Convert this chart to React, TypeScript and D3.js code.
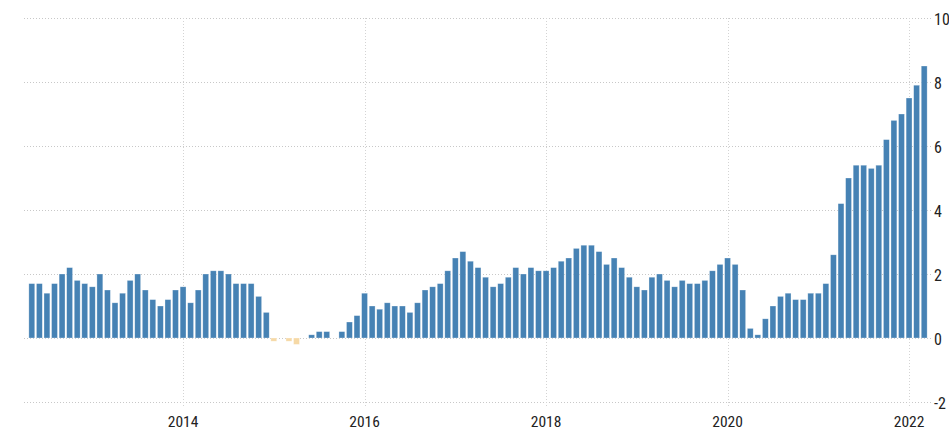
import React, { useEffect, useRef } from "react";
import * as d3 from "d3";

// monthly inflation rate, May 2012 .. Mar 2022
const startMonth = new Date(2012, 4, 1);
const values2012 = [1.7, 1.7, 1.4, 1.7, 2.0, 2.2, 1.8, 1.7];
const values2013 = [1.6, 2.0, 1.5, 1.1, 1.4, 1.8, 2.0, 1.5, 1.2, 1.0, 1.2, 1.5];
const values2014 = [1.6, 1.1, 1.5, 2.0, 2.1, 2.1, 2.0, 1.7, 1.7, 1.7, 1.3, 0.8];
const values2015 = [-0.1, 0.0, -0.1, -0.2, 0.0, 0.1, 0.2, 0.2, 0.0, 0.2, 0.5, 0.7];
const values2016 = [1.4, 1.0, 0.9, 1.1, 1.0, 1.0, 0.8, 1.1, 1.5, 1.6, 1.7, 2.1];
const values2017 = [2.5, 2.7, 2.4, 2.2, 1.9, 1.6, 1.7, 1.9, 2.2, 2.0, 2.2, 2.1];
const values2018 = [2.1, 2.2, 2.4, 2.5, 2.8, 2.9, 2.9, 2.7, 2.3, 2.5, 2.2, 1.9];
const values2019 = [1.6, 1.5, 1.9, 2.0, 1.8, 1.6, 1.8, 1.7, 1.7, 1.8, 2.1, 2.3];
const values2020 = [2.5, 2.3, 1.5, 0.3, 0.1, 0.6, 1.0, 1.3, 1.4, 1.2, 1.2, 1.4];
const values2021 = [1.4, 1.7, 2.6, 4.2, 5.0, 5.4, 5.4, 5.3, 5.4, 6.2, 6.8, 7.0];
const values2022 = [7.5, 7.9, 8.5];

const yTicks = [-2, 0, 2, 4, 6, 8, 10];
const xTickLabels = ["2014", "2016", "2018", "2020", "2022"];

const W = 949;
const H = 432;

export default function App() {
  const ref = useRef<SVGSVGElement>(null);

  useEffect(() => {
    const values = [
      ...values2012, ...values2013, ...values2014, ...values2015,
      ...values2016, ...values2017, ...values2018, ...values2019,
      ...values2020, ...values2021, ...values2022,
    ];
    const months = values.map((_, i) => d3.timeMonth.offset(startMonth, i));
    const data = months.map((m, i) => ({ key: d3.timeFormat("%Y-%m")(m), value: values[i] }));

    const svg = d3.select(ref.current);
    svg.selectAll("*").remove();

    const x = d3
      .scaleBand()
      .domain(data.map((d) => d.key))
      .range([27.2, 928.8])
      .padding(0.22);

    const y = d3.scaleLinear().domain([-2, 10]).range([402, 18]);

    const font = "'Liberation Sans Narrow', 'Arial Narrow', 'Roboto Condensed', sans-serif";

    // horizontal grid
    svg
      .selectAll(".hgrid")
      .data(yTicks)
      .join("line")
      .attr("class", "hgrid")
      .attr("x1", 24)
      .attr("x2", 932)
      .attr("y1", (d) => Math.round(y(d)) + 0.5)
      .attr("y2", (d) => Math.round(y(d)) + 0.5)
      .attr("stroke", "#c8c8c8")
      .attr("stroke-dasharray", "1,2");

    // vertical grid at year ticks
    const tickX = (yr: string) => x(`${yr}-01`)! + x.bandwidth() / 2;
    svg
      .selectAll(".vgrid")
      .data(xTickLabels)
      .join("line")
      .attr("class", "vgrid")
      .attr("x1", (d) => Math.round(tickX(d)) + 0.5)
      .attr("x2", (d) => Math.round(tickX(d)) + 0.5)
      .attr("y1", 18)
      .attr("y2", 408)
      .attr("stroke", "#d4d4d4")
      .attr("stroke-dasharray", "1,2");

    // bars
    svg
      .selectAll(".bar")
      .data(data.filter((d) => d.value !== 0))
      .join("rect")
      .attr("class", "bar")
      .attr("x", (d) => x(d.key)!)
      .attr("width", x.bandwidth())
      .attr("y", (d) => y(Math.max(0, d.value)))
      .attr("height", (d) => Math.abs(y(d.value) - y(0)))
      .attr("fill", (d) => (d.value < 0 ? "#f6d9a6" : "#4682b4"))
      .attr("stroke", "#ffffff")
      .attr("stroke-opacity", 0.5)
      .attr("stroke-width", 0.6);

    // y labels on the right
    svg
      .selectAll(".ylab")
      .data(yTicks)
      .join("text")
      .attr("class", "ylab")
      .attr("x", 934)
      .attr("y", (d) => y(d) + 1)
      .attr("dy", "0.35em")
      .attr("font-family", font)
      .attr("font-size", 16)
      .attr("fill", "#222")
      .text((d) => String(d));

    // x labels
    svg
      .selectAll(".xlab")
      .data(xTickLabels)
      .join("text")
      .attr("class", "xlab")
      .attr("x", (d) => tickX(d))
      .attr("y", 427)
      .attr("text-anchor", "middle")
      .attr("font-family", font)
      .attr("font-size", 15.5)
      .attr("fill", "#222")
      .text((d) => d);
  }, []);

  return (
    <svg
      ref={ref}
      width={W}
      height={H}
      style={{ position: "absolute", left: 0, top: 0, background: "#fff" }}
    />
  );
}
